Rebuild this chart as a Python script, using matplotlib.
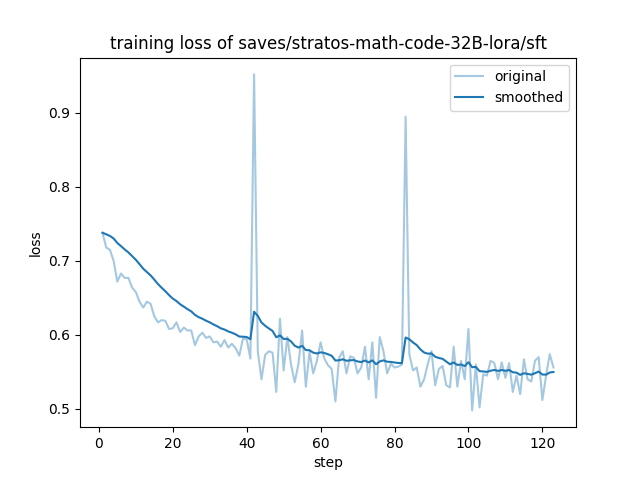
import math
import matplotlib
matplotlib.use("Agg")
import matplotlib.pyplot as plt

title = "training loss of saves/stratos-math-code-32B-lora/sft"

loss = [
    0.738, 0.718, 0.715, 0.700, 0.672, 0.683, 0.677, 0.677, 0.664, 0.658,
    0.645, 0.637, 0.645, 0.642, 0.625, 0.617, 0.620, 0.619, 0.608, 0.609,
    0.617, 0.604, 0.610, 0.606, 0.606, 0.586, 0.598, 0.603, 0.596, 0.598,
    0.590, 0.591, 0.584, 0.593, 0.583, 0.588, 0.582, 0.572, 0.595, 0.594,
    0.568, 0.952, 0.578, 0.540, 0.573, 0.578, 0.576, 0.523, 0.622, 0.552,
    0.597, 0.560, 0.536, 0.561, 0.606, 0.530, 0.577, 0.548, 0.565, 0.590,
    0.568, 0.559, 0.554, 0.510, 0.569, 0.578, 0.548, 0.571, 0.569, 0.548,
    0.556, 0.584, 0.540, 0.590, 0.515, 0.597, 0.578, 0.548, 0.561, 0.556,
    0.557, 0.560, 0.895, 0.574, 0.552, 0.556, 0.530, 0.540, 0.561, 0.578,
    0.532, 0.554, 0.558, 0.532, 0.529, 0.584, 0.530, 0.565, 0.540, 0.608,
    0.498, 0.560, 0.502, 0.547, 0.545, 0.565, 0.562, 0.540, 0.563, 0.542,
    0.562, 0.523, 0.545, 0.520, 0.567, 0.540, 0.537, 0.565, 0.570, 0.512,
    0.545, 0.574, 0.556,
]
steps = list(range(1, len(loss) + 1))


def smooth(scalars):
    # EMA smoothing with a length-dependent weight
    weight = 1.8 * (1 / (1 + math.exp(-0.05 * len(scalars))) - 0.5)
    last = scalars[0]
    out = []
    for v in scalars:
        last = last * weight + (1 - weight) * v
        out.append(last)
    return out


fig, ax = plt.subplots(figsize=(6.4, 4.8), dpi=100)
ax.plot(steps, loss, color="#1f77b4", alpha=0.4, label="original")
ax.plot(steps, smooth(loss), color="#1f77b4", label="smoothed")
ax.set_title(title)
ax.set_xlabel("step")
ax.set_ylabel("loss")
ax.legend()
fig.savefig("out.png")
